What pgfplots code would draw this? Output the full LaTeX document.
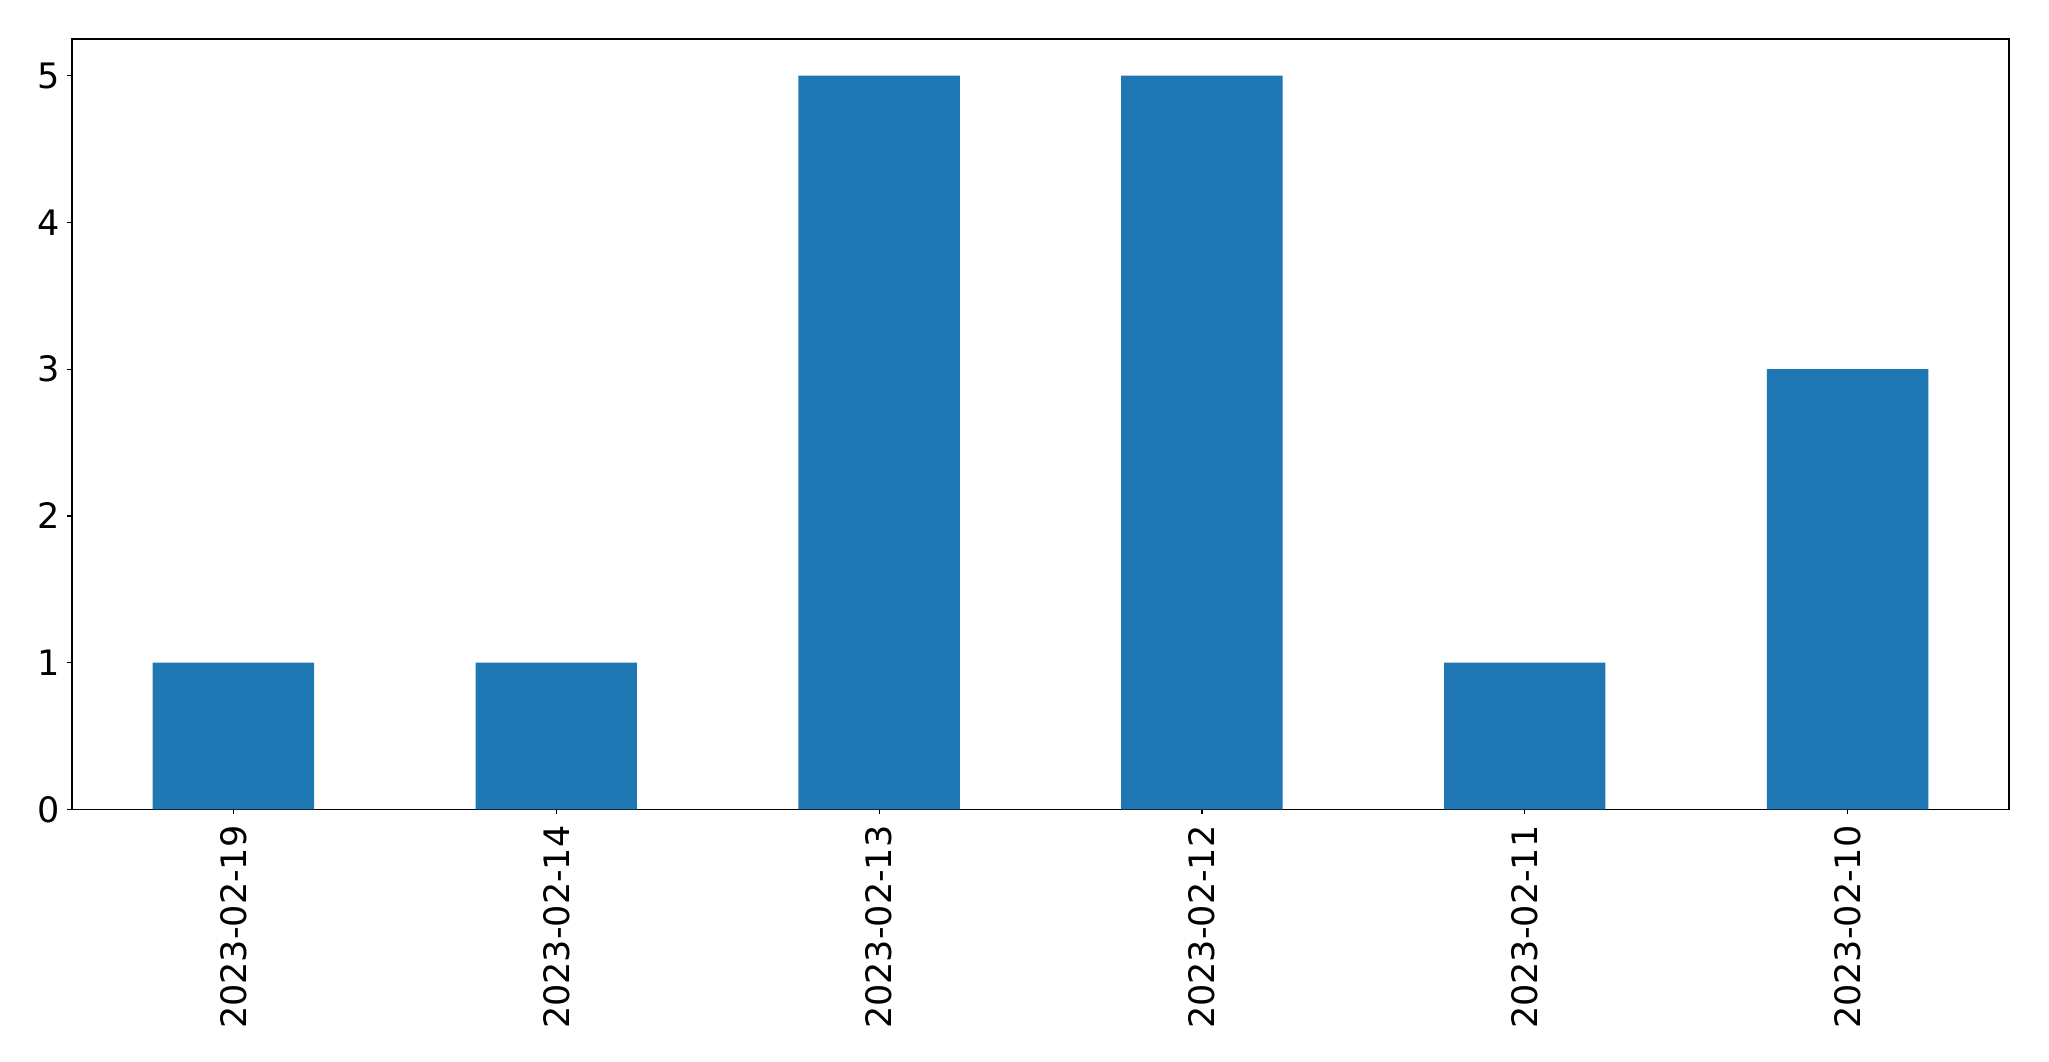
\documentclass[border=0pt]{standalone}
\usepackage{pgfplots}
\pgfplotsset{compat=1.18}
\usepackage{fontspec}
\setmainfont{DejaVu Sans}
\definecolor{tabblue}{HTML}{1F77B4}
\begin{document}
\begin{tikzpicture}
\begin{axis}[
  name=ax,
  scale only axis,
  width=968pt, height=385pt,
  xmin=-0.5, xmax=5.5,
  ymin=0, ymax=5.25,
  xtick={0,1,2,3,4,5},
  xticklabels={2023-02-19,2023-02-14,2023-02-13,2023-02-12,2023-02-11,2023-02-10},
  x tick label style={rotate=90, anchor=east, font=\fontsize{17.5}{20}\selectfont},
  y tick label style={font=\fontsize{17.5}{20}\selectfont},
  ytick={0,1,2,3,4,5},
  /pgf/number format/assume math mode=true,
  tick align=outside,
  tick pos=left,
  major tick length=2.5pt,
  axis line style={line width=0.6pt},
  every tick/.style={black, line width=0.6pt},
  xticklabel shift=2pt,
  yticklabel shift=0pt,
  ybar,
  bar width=0.5,
  axis on top=false,
]
\addplot[fill=tabblue, draw=none] coordinates {(0,1) (1,1) (2,5) (3,5) (4,1) (5,3)};
\end{axis}
\pgfresetboundingbox
\path ([shift={(-36pt,-126pt)}]ax.south west) rectangle ([shift={(20pt,19.5pt)}]ax.north east);
\end{tikzpicture}
\end{document}
